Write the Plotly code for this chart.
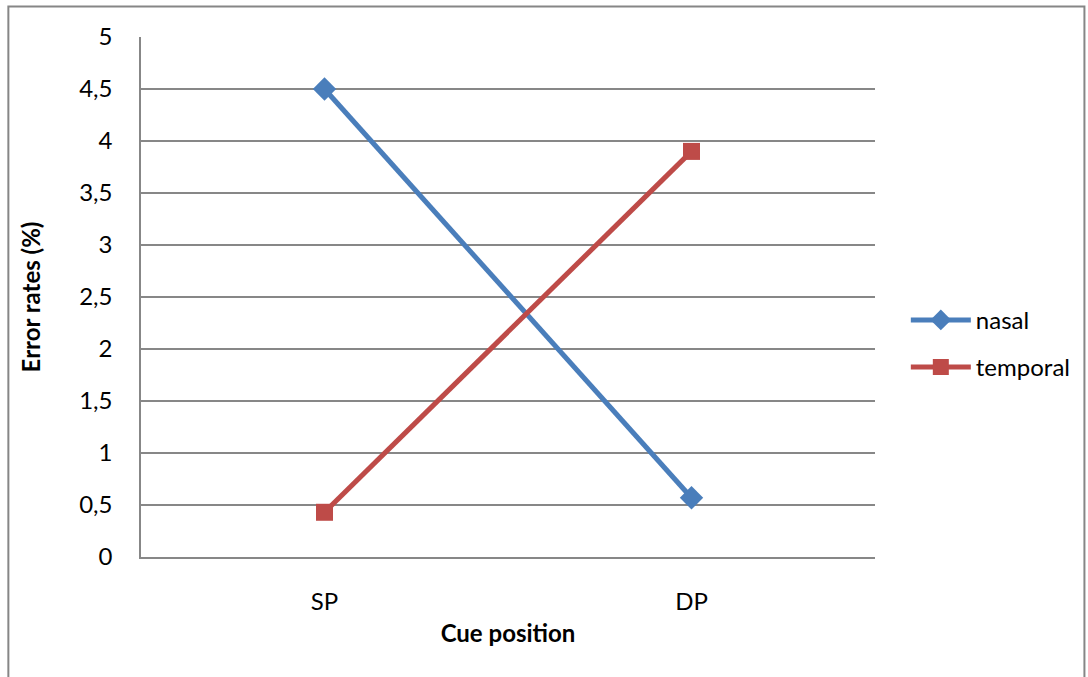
import plotly.graph_objects as go

# Error rates by cue position for nasal and temporal targets
categories = ["SP", "DP"]
nasal = [4.5, 0.57]
temporal = [0.43, 3.9]
y_ticks = [0, 0.5, 1, 1.5, 2, 2.5, 3, 3.5, 4, 4.5, 5]

BLUE = "#4A7EBB"
RED = "#BE4B48"
GRID = "#878787"
FONT = "Lato"

fig = go.Figure()
fig.add_trace(go.Scatter(
    x=categories, y=nasal, name="nasal", mode="lines+markers",
    legendgroup="nasal",
    line=dict(color=BLUE, width=5),
    marker=dict(symbol="diamond", size=18, color=BLUE),
))
fig.add_trace(go.Scatter(
    x=categories, y=temporal, name="temporal", mode="lines+markers",
    legendgroup="temporal",
    line=dict(color=RED, width=5),
    marker=dict(symbol="square", size=17, color=RED),
))

fig.update_layout(
    width=1088, height=677,
    margin=dict(l=141, r=211, t=37, b=120),
    paper_bgcolor="white", plot_bgcolor="white",
    separators=", ",
    font=dict(family=FONT, size=24, color="#000000"),
    showlegend=True,
    legend=dict(
        x=1.042, y=0.41, xanchor="left", yanchor="middle",
        font=dict(size=24), tracegroupgap=13, itemwidth=60,
        bgcolor="rgba(0,0,0,0)",
    ),
    xaxis=dict(
        type="category", range=[-0.5, 1.5],
        showgrid=False, zeroline=False,
        showline=True, linecolor=GRID, linewidth=1.5,
        ticks="", ticklabelstandoff=22,
        title=dict(text="<b>Cue position</b>", standoff=12, font=dict(size=24)),
    ),
    yaxis=dict(
        range=[0, 5], tickvals=y_ticks,
        showgrid=True, gridcolor=GRID, gridwidth=1.5,
        zeroline=False,
        showline=True, linecolor=GRID, linewidth=1.5,
        ticks="", ticklabelstandoff=22,
        title=dict(text="<b>Error rates (%)</b>", standoff=32, font=dict(size=24)),
    ),
    shapes=[dict(
        type="rect", xref="paper", yref="paper",
        x0=-141/736 + 8/736, x1=(1087 - 141)/736,
        y0=-(677 - 557 + 20)/520, y1=(557 - 6.5)/520,
        line=dict(color="#868686", width=2), fillcolor="rgba(0,0,0,0)",
        layer="below",
    )],
)

fig.write_html("out.html")
